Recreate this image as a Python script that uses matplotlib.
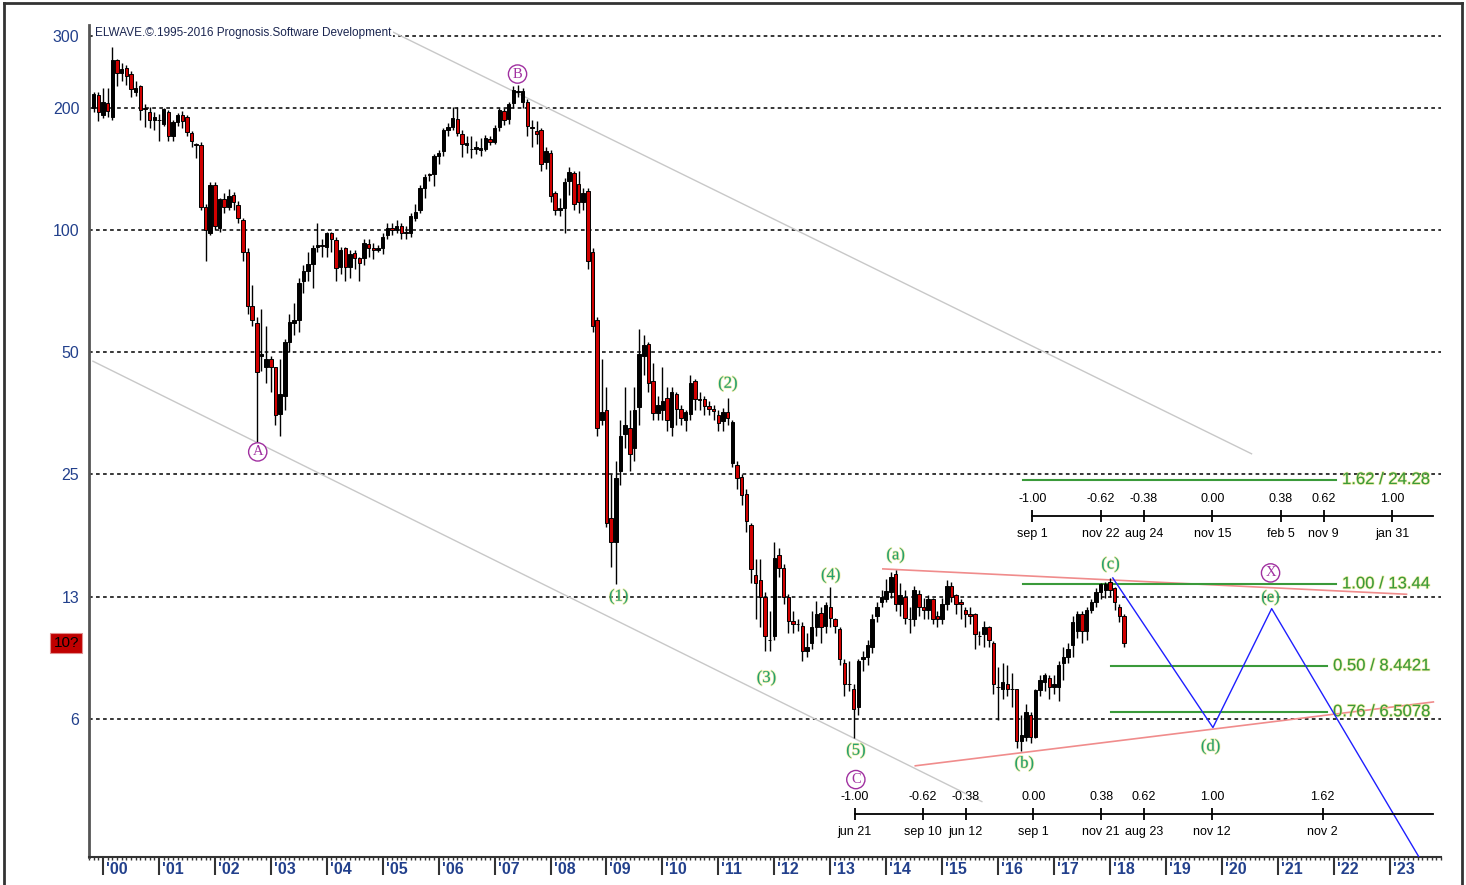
import numpy as np
import matplotlib.pyplot as plt
import matplotlib.patheffects as pe
from matplotlib.lines import Line2D
from matplotlib.ticker import FixedLocator, NullLocator, NullFormatter

plt.rcParams['font.family'] = ['Liberation Sans', 'DejaVu Sans']

# monthly candles, first bar = Nov 1999
first_month = 1999 + 10 / 12

opens = [200, 215, 192, 205, 190, 262, 243, 251, 242, 219, 226, 200,
         195, 186, 187, 182, 195, 170, 184, 192, 190, 173, 163, 162,
         114, 98, 129, 101, 119, 114, 122, 115, 106, 88, 65, 59,
         49, 46, 48, 46, 35.3, 39, 53, 59, 60, 75, 79, 82.6,
         91, 92, 91, 98,
         94.5, 81, 90, 81, 87.5, 85.5, 85.5, 92.5, 90, 89, 90, 97,
         101, 100, 102, 98, 98, 107, 112, 127, 137, 137, 152, 156,
         176, 179, 188, 172, 162, 158, 158, 157, 158, 167, 165, 179,
         196, 188, 205, 218, 206, 207, 179, 175, 176, 147, 155, 123,
         112, 113, 132, 138, 130, 117, 125, 88,
         60, 34, 36, 19.5, 17, 25.5, 31.5, 32.5, 29, 36.6, 49, 52.3,
         42.5, 35.5, 36, 38.6, 32.8, 39.5, 36.3, 34, 35.3, 42.5, 38.4, 38.3,
         36.9, 36.3, 35, 33.8, 35.6, 26.6, 26.3, 24.7, 22.4, 18.8, 14.1, 13.7,
         12.5, 9.8, 10, 15.8, 14.7, 12.5, 10.9, 10.7, 10.6, 9.2, 9.6, 10.5,
         11.4, 10.6, 11.8, 11, 10.4, 8.6, 7.6, 7.4, 6.7, 8.8, 8.9, 9.4,
         11.2, 12.1, 12.3, 12.8, 14.2, 12, 12.5, 11, 11, 12.7, 11.8, 11.6,
         12.3, 11.2, 11, 12, 13.3, 12.6, 12.1, 11.6, 11.3, 11.3, 10, 10.1,
         10.5, 9.6, 7.5, 7.4, 7.6, 7.4, 7.4, 5.5, 5.65, 6.4, 5.65, 7.35,
         7.7, 7.9, 7.5, 7.5, 8.6, 8.9, 9.5, 10.3, 11.3, 10.3, 11.6, 12.1,
         12.8, 13, 13.6, 13.1, 11.8, 11.2]
highs = [218, 218, 224, 224, 282, 264, 258, 255, 246, 232, 228, 204,
         201, 195, 193, 200, 197, 186, 194, 196, 192, 175, 164, 165,
         116, 131, 131, 120, 123, 126, 124, 118, 107, 90, 73, 61,
         64, 58, 49, 46, 48, 54, 62, 66, 76, 82, 88, 92,
         104, 95, 99, 99,
         96, 91, 91, 89, 89, 86, 95, 95, 93, 92, 98, 104,
         104, 106, 104, 102, 110, 116, 129, 137, 138, 154, 157, 178,
         183, 201, 201, 176, 170, 170, 166, 168, 171, 170, 181, 200,
         200, 206, 226, 228, 224, 210, 186, 185, 178, 160, 157, 125,
         120, 134, 143, 140, 140, 127, 127, 90,
         61, 48, 41, 25, 27, 34, 41, 36, 41, 57, 55, 53,
         47, 39, 46, 41, 41, 40, 37, 36, 44, 43, 40, 39,
         38, 37, 36, 36.5, 38.6, 34, 27, 25, 23, 19, 15.5, 15.5,
         12.8, 11.5, 17, 16.5, 15, 12.7, 11.5, 11, 10.8, 10.2, 11.5, 12.2,
         11.8, 12.1, 13.2, 11.1, 10.5, 8.8, 8.7, 7.6, 8.8, 9.2, 9.8, 11.3,
         12.1, 13, 13.8, 14.4, 14.5, 13.5, 13, 11.8, 13.3, 13, 12.4, 12.6,
         12.4, 11.5, 12.4, 13.7, 13.6, 12.7, 12.3, 11.8, 11.8, 11.4, 10.3, 10.9,
         10.6, 9.7, 8.4, 8.6, 8.5, 8.1, 7.4, 6.4, 6.8, 6.5, 7.4, 8,
         8.1, 8, 8, 8.7, 9.4, 9.6, 11.2, 11.5, 11.5, 11.8, 12.3, 13.1,
         13.5, 13.6, 13.9, 13.2, 12, 11.3]
lows = [195, 185, 189, 190, 186, 226, 232, 228, 212, 214, 186, 179,
        178, 176, 166, 180, 166, 166, 180, 178, 170, 160, 150, 112,
        84, 97, 100, 99, 110, 112, 112, 104, 84, 62, 58, 30,
        45, 42, 40, 33, 31, 36, 50, 55, 56, 70, 75, 72,
        88, 86, 86, 88,
        75, 78, 75, 76, 80, 75, 82, 86, 85, 88, 87, 95,
        97, 98, 95, 95, 96, 105, 110, 120, 132, 128, 145, 152,
        170, 176, 170, 151, 155, 150, 154, 152, 156, 162, 163, 175,
        181, 182, 200, 212, 200, 170, 160, 163, 140, 141, 117, 109,
        108, 98, 122, 112, 110, 112, 80, 56,
        31, 33, 18.5, 14.8, 13.4, 23.5, 29, 25.5, 27, 33, 44, 40,
        34, 34, 34, 32, 31, 33, 33, 32, 34, 36, 36, 35,
        35, 34, 32, 32, 33, 26, 23, 21, 18, 13.5, 11, 10.5,
        9.2, 9.2, 9.8, 14, 12, 10.2, 10.2, 10.3, 8.7, 8.9, 9.3, 10,
        9.6, 10.2, 10.5, 10.2, 8.5, 7.1, 7.3, 5.6, 6.4, 8.2, 8.5, 9.1,
        10.8, 11.8, 12.1, 12.4, 11.5, 11.2, 10.7, 10.2, 10.6, 11.2, 11, 11,
        10.7, 10.5, 10.7, 11.6, 12.1, 11.3, 11, 10.5, 10.7, 9.3, 9.5, 9.4,
        9.4, 7.2, 6.2, 7, 7.1, 6.7, 5.3, 5.2, 5.5, 5.45, 5.6, 7.1,
        7.3, 7, 7.2, 6.9, 7.8, 8.6, 8.9, 9.9, 9.6, 9.8, 11.4, 11.8,
        12.3, 12.4, 12.5, 11.6, 10.8, 9.4]
closes = [216, 195, 207, 196, 262, 243, 249, 239, 222, 224, 197, 199,
          186, 190, 186, 198, 170, 184, 192, 185, 174, 166, 162, 114,
          100, 129, 102, 119, 114, 121, 117, 107, 88, 65, 60, 44.6,
          49.5, 48, 46, 35, 39.5, 53, 59.3, 60, 74, 79, 82.5, 90.5,
          92, 91.5, 98, 95,
          80.6, 89, 81, 87, 85.5, 83, 93, 90, 89, 90, 96, 101,
          100, 102, 98, 99, 108, 111, 127, 135, 136.5, 152, 155, 176,
          179, 189, 173, 163, 164, 158.5, 160, 159, 168, 165, 178, 197,
          186, 204, 221, 220, 220, 180, 178, 172, 145, 156, 121, 112,
          113, 131, 139, 116, 117, 123, 84, 58,
          32.5, 35.6, 19, 17, 24.5, 31, 33, 28, 36, 49.5, 52, 42,
          35.5, 37, 38, 34, 40, 36.3, 34.5, 35.6, 42, 38.3, 38.2, 36.9,
          36.3, 35.8, 33.5, 35.6, 34.4, 33.7, 24.5, 22.3, 19.2, 14.6, 13.5, 12.5,
          10, 9.8, 15.6, 14.7, 12.5, 10.9, 10.7, 10.7, 9.2, 9.4, 10.5, 11.3,
          10.5, 11.9, 11.1, 10.6, 8.8, 7.6, 7.6, 6.6, 8.7, 8.9, 9.5, 11,
          11.8, 12.5, 12.9, 14, 12, 12.6, 11.1, 11, 13, 11.8, 11.6, 12.3,
          11, 11, 12, 13.3, 12.5, 12, 12, 11.3, 11.2, 10.1, 10, 10.5,
          9.8, 7.6, 7.5, 7.7, 7.4, 7.4, 5.5, 5.7, 6.5, 5.65, 7.35, 7.8,
          8, 7.5, 7.6, 8.5, 8.9, 9.3, 10.8, 11.3, 10.3, 11.6, 12.1, 12.8,
          13.4, 13.4, 13, 12.1, 11.2, 9.6]

grid_levels = [300, 200, 100, 50, 25, 12.5, 6.25]
grid_labels = ['300', '200', '100', '50', '25', '13', '6']
years = list(range(2000, 2024))

# trend / channel lines (date, price)
upper_channel_t = [2005.04, 2020.53]
upper_channel_v = [314, 28.1]
lower_channel_t = [1999.82, 2015.71]
lower_channel_v = [47.5, 3.91]
tri_top_t = [2013.94, 2023.30]
tri_top_v = [14.63, 12.67]
tri_bot_t = [2014.52, 2023.78]
tri_bot_v = [4.79, 6.88]
path_t = [2018.05, 2019.84, 2020.89, 2023.6]
path_v = [13.9, 5.95, 11.68, 2.74]

# fibonacci price targets
fib_prices = [24.28, 13.44, 8.4421, 6.5078]
fib_names = ['1.62 / 24.28', '1.00 / 13.44', '0.50 / 8.4421', '0.76 / 6.5078']
fib_from = [2016.45, 2016.45, 2018.01, 2018.01]
fib_to = [2022.04, 2022.04, 2021.88, 2021.88]

# fibonacci time rulers
top_ratios = [-1.00, -0.62, -0.38, 0.00, 0.38, 0.62, 1.00]
top_dates = ['sep 1', 'nov 22', 'aug 24', 'nov 15', 'feb 5', 'nov 9', 'jan 31']
bot_ratios = [-1.00, -0.62, -0.38, 0.00, 0.38, 0.62, 1.00, 1.62]
bot_dates = ['jun 21', 'sep 10', 'jun 12', 'sep 1', 'nov 21', 'aug 23', 'nov 12', 'nov 2']

circled = [('A', 2002.766, 28.4), ('B', 2007.41, 242), ('C', 2013.457, 4.43),
           ('X', 2020.87, 14.3)]
waves = [('(1)', 2009.22, 12.5), ('(2)', 2011.17, 41.8), ('(3)', 2011.86, 7.88),
         ('(4)', 2013.01, 14.1), ('(5)', 2013.46, 5.22), ('(a)', 2014.17, 15.8),
         ('(b)', 2016.47, 4.85), ('(c)', 2018.01, 15.0), ('(d)', 2019.80, 5.34),
         ('(e)', 2020.87, 12.43)]

navy = '#22408c'
green = '#3a9a3a'
fringe = [pe.withStroke(linewidth=1.2, foreground='#e6e070', alpha=0.55)]

fig = plt.figure(figsize=(14.66, 8.85), dpi=100)
ax = fig.add_axes([89 / 1466, 28 / 885, 1352 / 1466, 832 / 885])
ax.set_yscale('log')
ax.set_xlim(1999.823, 2023.78)
ax.set_ylim(2.856, 319.6)

# candles
o = np.array(opens)
h = np.array(highs)
l = np.array(lows)
c = np.array(closes)
t = first_month + np.arange(len(o)) / 12
ax.vlines(t, l, h, color='black', lw=1, zorder=3)
cols = np.where(c < o, '#d00000', 'black')
ax.bar(t, np.abs(c - o), bottom=np.minimum(o, c), width=0.062,
       color=cols, edgecolor='black', linewidth=0.7, zorder=4)

# grid
ax.yaxis.set_major_locator(FixedLocator(grid_levels))
ax.yaxis.set_minor_locator(NullLocator())
ax.set_yticklabels(grid_labels)
ax.yaxis.set_minor_formatter(NullFormatter())
ax.tick_params(axis='y', length=0, pad=7, labelsize=11.5, labelcolor=navy)
for lv in grid_levels:
    ax.axhline(lv, color='black', lw=1.1, ls=(0, (2.4, 2.2)), zorder=1)

# x axis
ax.set_xticks(years)
ax.set_xticklabels([])
ax.set_xticks(first_month + np.arange(-1, 290) / 12, minor=True)
ax.tick_params(axis='x', which='major', length=13, width=1.5, color='#333333')
ax.tick_params(axis='x', which='minor', length=2.5, width=1, color='#333333')
for yr in years:
    ax.annotate("'%02d" % (yr % 100), xy=(yr, 0), xycoords=('data', 'axes fraction'),
                xytext=(3, -12), textcoords='offset pixels', ha='left', va='center',
                fontsize=11.5, fontweight='bold', color=navy)

for s in ['top', 'right']:
    ax.spines[s].set_visible(False)
ax.spines['left'].set_color('#555555')
ax.spines['left'].set_linewidth(2)
ax.spines['bottom'].set_color('#333333')
ax.spines['bottom'].set_linewidth(1.5)

# channels and projections
ax.plot(upper_channel_t, upper_channel_v, color='#c8c8c8', lw=1, zorder=2)
ax.plot(lower_channel_t, lower_channel_v, color='#c8c8c8', lw=1, zorder=2)
ax.plot(tri_top_t, tri_top_v, color='#f08c8c', lw=1.2, zorder=2)
ax.plot(tri_bot_t, tri_bot_v, color='#f08c8c', lw=1.2, zorder=2)
ax.plot(path_t, path_v, color='#1f1fff', lw=1, zorder=5)

for lv, nm, a, b in zip(fib_prices, fib_names, fib_from, fib_to):
    ax.plot([a, b], [lv, lv], color=green, lw=1.5, zorder=2)
    ax.annotate(nm, xy=(b, lv), xytext=(6, 0), textcoords='offset pixels',
                ha='left', va='center', fontsize=12, color=green, path_effects=fringe)


def time_ruler(ratios, dates, zero, unit, price):
    xs = [zero + r * unit for r in ratios]
    ax.plot([xs[0], 2023.78], [price, price], color='black', lw=1.3, zorder=5)
    ax.plot(xs, [price] * len(xs), ls='none', marker='|', ms=9, mew=1.3,
            color='black', zorder=5)
    for x, r, d in zip(xs, ratios, dates):
        ax.annotate('%.2f' % r, xy=(x, price), xytext=(0, 17), textcoords='offset pixels',
                    ha='center', va='center', fontsize=9)
        ax.annotate(d, xy=(x, price), xytext=(0, -18), textcoords='offset pixels',
                    ha='center', va='center', fontsize=9)


time_ruler(top_ratios, top_dates, 2019.828, 3.2145, 19.7)
time_ruler(bot_ratios, bot_dates, 2016.631, 3.191, 3.64)

# wave labels
for nm, x, y in circled:
    ax.text(x, y, nm, ha='center', va='center', fontsize=10.5, color='#a030a0',
            family='Liberation Serif', zorder=6,
            bbox=dict(boxstyle='circle,pad=0.18', fc='white', ec='#a030a0', lw=1))
for nm, x, y in waves:
    ax.text(x, y, nm, ha='center', va='center', fontsize=12, color='#23a070',
            family='Liberation Serif', zorder=6, path_effects=fringe)

ax.text(0.0045, 0.99, 'ELWAVE.©.1995-2016 Prognosis.Software Development',
        transform=ax.transAxes, ha='left', va='center', fontsize=8.5, color='#1a2550',
        zorder=6, bbox=dict(fc='white', ec='none', pad=1))

# last price marker
ax.annotate('10?', xy=(0, closes[-1]), xycoords=('axes fraction', 'data'),
            xytext=(-10, 0), textcoords='offset pixels', ha='right', va='center',
            fontsize=11, color='black', annotation_clip=False,
            bbox=dict(boxstyle='square,pad=0.2', fc='#c00000', ec='#e09090', lw=0.8))

# outer frame
for xs, ys in [([4 / 1466, 4 / 1466], [0, 882 / 885]),
               ([4 / 1466, 1462 / 1466], [882 / 885, 882 / 885]),
               ([1462 / 1466, 1462 / 1466], [882 / 885, 0])]:
    fig.add_artist(Line2D(xs, ys, color='#333333', lw=2))

fig.savefig('out.png', dpi=100)
